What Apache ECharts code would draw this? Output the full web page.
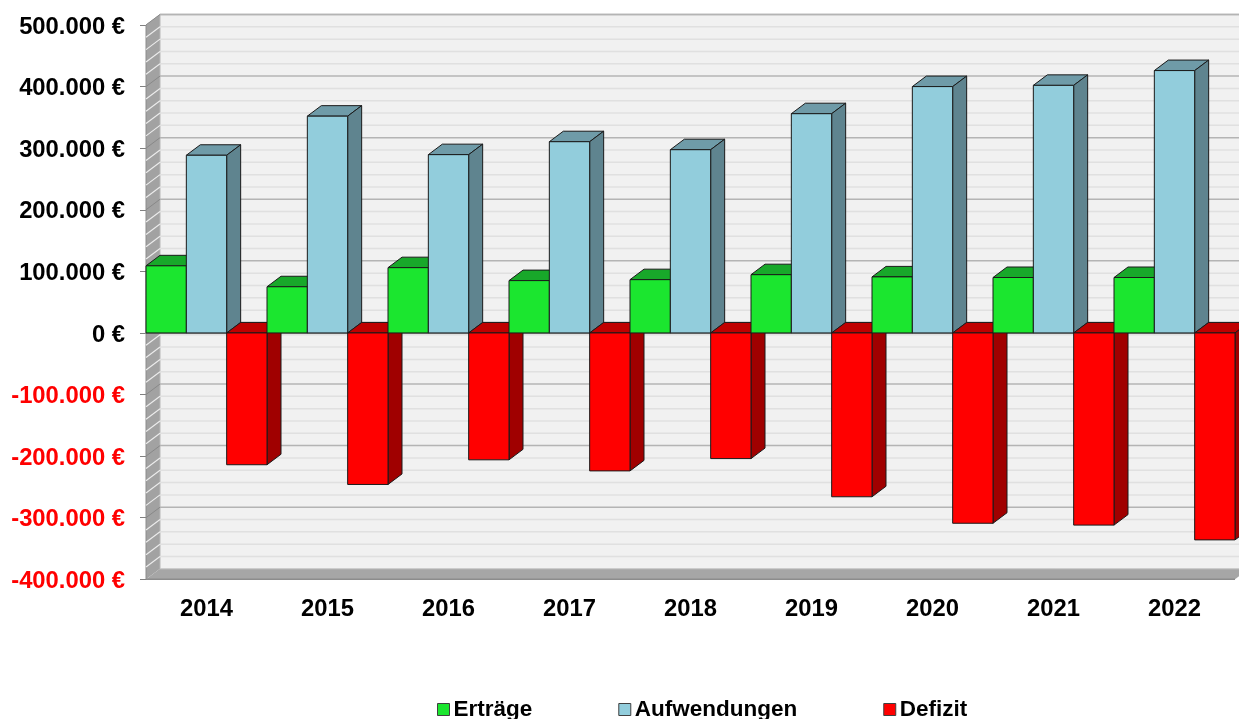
<!DOCTYPE html>
<html><head><meta charset="utf-8">
<style>html,body{margin:0;padding:0;background:#fff;overflow:hidden}#c{width:1239px;height:719px}</style>
<script src="https://cdn.jsdelivr.net/npm/echarts@6/dist/echarts.min.js"></script>
</head><body><div id="c"></div>
<script>
const years = ['2014','2015','2016','2017','2018','2019','2020','2021','2022'];
const ertraege = [109000,75000,106000,85000,86500,94600,91000,90000,90000];
const aufwendungen = [288500,352000,289500,310500,297500,356000,400000,402000,426000];
const defizit = [-214000,-246000,-206000,-224000,-204000,-266000,-309000,-312000,-336000];
const wallMinor = [-380000,-360000,-340000,-320000,-280000,-260000,-240000,-220000,-180000,-160000,-140000,-120000,-80000,-60000,-40000,-20000,20000,40000,60000,80000,120000,140000,160000,180000,220000,240000,260000,280000,320000,340000,360000,380000,420000,440000,460000,480000];
const wallMajor = [-300000,-200000,-100000,100000,200000,300000,400000,500000];
const DX = 14, DY = 10.5;
const palette = [
  {front:'#1be62f', top:'#18a82a', side:'#12801f'},
  {front:'#92cddc', top:'#6f9ba8', side:'#5f848f'},
  {front:'#ff0000', top:'#c00000', side:'#a00000'}
];
function poly(pts, fill, stroke, w, z2){
  return {type:'polygon', z2, shape:{points:pts}, style:{fill, stroke:stroke||null, lineWidth:w||0}, silent:true};
}
function line(x1,y1,x2,y2,c,w,z2){
  return {type:'line', z2, shape:{x1,y1,x2,y2}, style:{stroke:c, lineWidth:w}, silent:true};
}
function barRender(si){
  return function(params, api){
    const cat = api.value(0), v = api.value(1);
    const w = api.size([1,0])[0];
    const cx = api.coord([cat,0])[0];
    const y0 = api.coord([cat,0])[1], y1 = api.coord([cat,v])[1];
    const bw = w/3, x = cx - w/2 + si*bw, xr = x + bw;
    const yt = Math.min(y0,y1), yb = Math.max(y0,y1);
    const p = palette[si], z = 10 + cat*3 + si, e = '#1a1a1a';
    return {type:'group', children:[
      poly([[x,yt],[x+DX,yt-DY],[xr+DX,yt-DY],[xr,yt]], p.top, e, 1, z),
      poly([[xr,yt],[xr+DX,yt-DY],[xr+DX,yb-DY],[xr,yb]], p.side, e, 1, z),
      poly([[x,yt],[xr,yt],[xr,yb],[x,yb]], p.front, e, 1, z)
    ]};
  };
}
function wallRender(params, api){
  const lo = api.coord([0,-400000]), hi = api.coord([0,500000]);
  const w = api.size([1,0])[0];
  const xl = lo[0]-w/2, xr = xl + w*years.length, yb = lo[1], yt = hi[1];
  const ch = [
    poly([[xl+DX,yt-DY],[xr+DX,yt-DY],[xr+DX,yb-DY],[xl+DX,yb-DY]], '#f1f1f1', null, 0, 1),
    poly([[xl,yt],[xl+DX,yt-DY],[xl+DX,yb-DY],[xl,yb]], '#a2a2a2', null, 0, 2),
    poly([[xl,yb],[xl+DX,yb-DY],[xr+DX,yb-DY],[xr,yb]], '#a6a6a6', null, 0, 2),
    line(xl+DX,yt-DY,xr+DX,yt-DY,'#b8b8b8',1.5,3),
    line(xl+DX,yt-DY,xl+DX,yb-DY,'#b8b8b8',1,3),
    line(xl,yt,xl,yb,'#8c8c8c',1,3),
    line(xl,yb,xr,yb,'#8c8c8c',1.5,3),
    line(xl+DX,yb-DY,xr+DX,yb-DY,'#c4c4c4',1,3),
    line(xl,yt,xl+DX,yt-DY,'#b8b8b8',1,3)
  ];
  wallMinor.forEach(t=>{
    const y = api.coord([0,t])[1];
    ch.push(line(xl+DX,y-DY,xr+DX,y-DY,'#e0e0e0',1.5,3));
    ch.push(line(xl,y,xl+DX,y-DY,'#ececec',1.2,3));
  });
  wallMajor.forEach(t=>{
    const y = api.coord([0,t])[1];
    ch.push(line(xl+DX,y-DY,xr+DX,y-DY,'#b4b4b4',1.5,3));
    ch.push(line(xl,y,xl+DX,y-DY,'#888888',1,3));
  });
  const z0 = api.coord([0,0])[1];
  ch.push(line(xl+DX,z0-DY,xr+DX,z0-DY,'#b4b4b4',1.5,3));
  ch.push(line(xl,z0,xl+DX,z0-DY,'#888888',1,3));
  ch.push(line(xl,z0,xr,z0,'#707070',1.5,4));
  return {type:'group', children:ch};
}
function rows(a){ return a.map((v,i)=>[i,v]); }
const euro = v => String(v).replace(/\B(?=(\d{3})+$)/g,'.') + ' €';
const richBase = {fontSize:23.8, fontWeight:'bold', fontFamily:'Liberation Sans', padding:[4,0,0,0]};
const chart = echarts.init(document.getElementById('c'), null, {renderer:'canvas'});
chart.setOption({
  animation:false,
  backgroundColor:'#fff',
  textStyle:{fontFamily:'Liberation Sans'},
  grid:{left:146, right:4, top:25, bottom:139.7},
  xAxis:{type:'category', data:years, boundaryGap:true, position:'bottom',
    axisLine:{show:false,onZero:false}, axisTick:{show:false}, splitLine:{show:false},
    axisLabel:{margin:18, interval:0, fontSize:23.8, fontWeight:'bold', color:'#000', fontFamily:'Liberation Sans'}},
  yAxis:{type:'value', min:-400000, max:500000, interval:100000,
    axisLine:{show:false}, splitLine:{show:false},
    axisTick:{show:true, length:6, lineStyle:{color:'#808080', width:1}},
    axisLabel:{margin:21, formatter:v=>'{'+(v<0?'neg':'pos')+'|'+euro(v)+'}',
      rich:{pos:Object.assign({color:'#000000'},richBase), neg:Object.assign({color:'#ff0000'},richBase)}}},
  legend:{left:437, top:698, itemGap:86, itemWidth:12, itemHeight:12, icon:'rect', padding:0,
    data:['Erträge','Aufwendungen','Defizit'], selectedMode:false,
    itemStyle:{borderColor:'#404040', borderWidth:1},
    textStyle:{fontSize:22.5, fontWeight:'bold', color:'#000', fontFamily:'Liberation Sans', padding:[0,0,0,-1]}},
  series:[
    {type:'custom', name:'wall', renderItem:wallRender, data:[[0,0]], encode:{x:0,y:1}, silent:true, z:2},
    {type:'custom', name:'Erträge', renderItem:barRender(0), data:rows(ertraege), encode:{x:0,y:1}, itemStyle:{color:palette[0].front}, z:2, silent:true},
    {type:'custom', name:'Aufwendungen', renderItem:barRender(1), data:rows(aufwendungen), encode:{x:0,y:1}, itemStyle:{color:palette[1].front}, z:2, silent:true},
    {type:'custom', name:'Defizit', renderItem:barRender(2), data:rows(defizit), encode:{x:0,y:1}, itemStyle:{color:palette[2].front}, z:2, silent:true}
  ]
});
</script></body></html>
